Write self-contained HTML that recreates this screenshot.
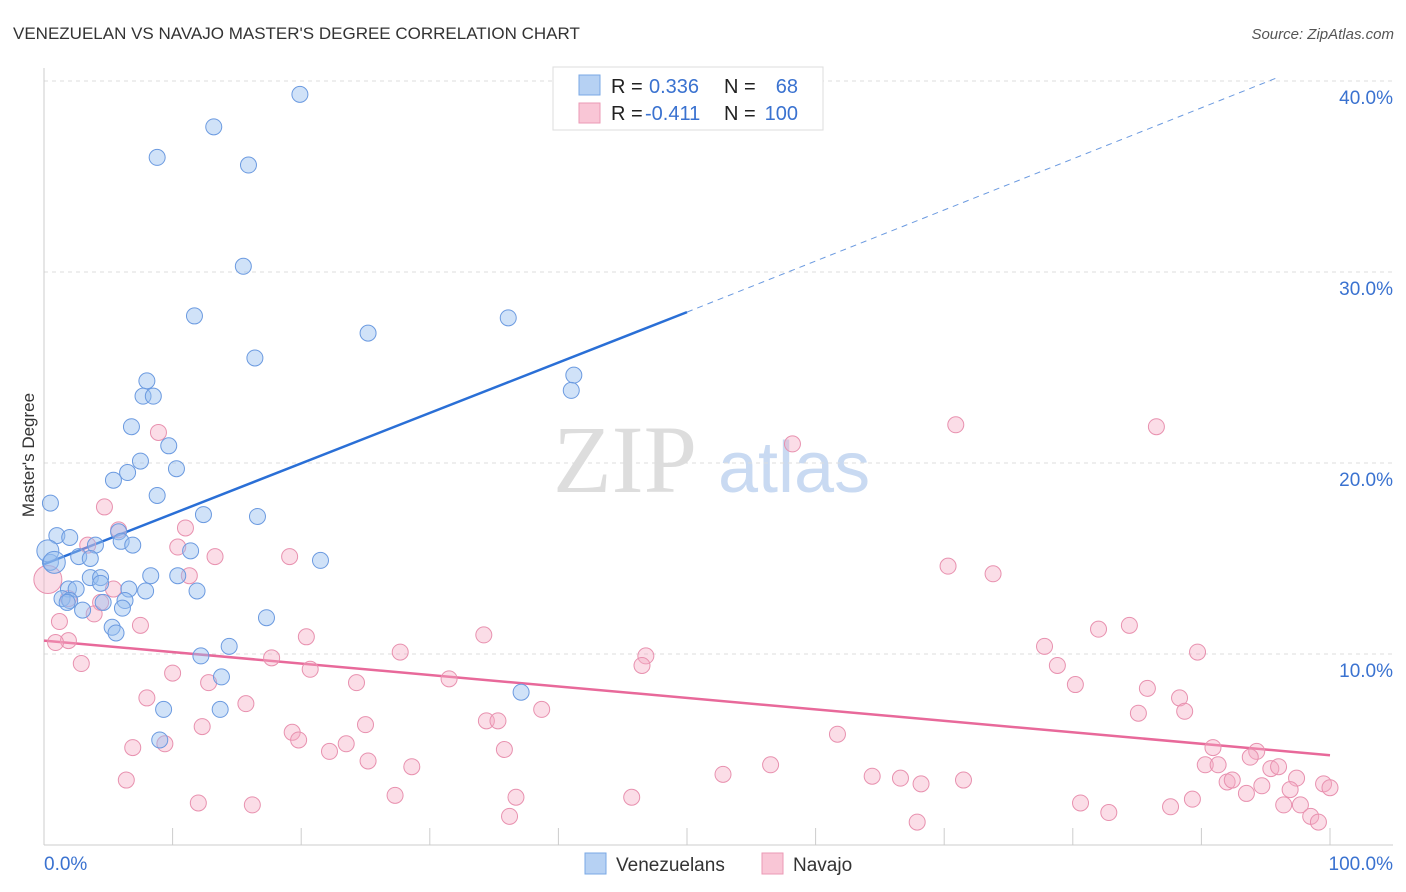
<!DOCTYPE html>
<html><head><meta charset="utf-8"><style>
body{margin:0;background:#fff;font-family:"Liberation Sans",sans-serif;}
svg{display:block}
</style></head><body>
<svg id="chart" width="1406" height="892" xmlns="http://www.w3.org/2000/svg">
<text x="13" y="39" font-size="17" fill="#333">VENEZUELAN VS NAVAJO MASTER'S DEGREE CORRELATION CHART</text>
<text x="1394" y="39" font-size="15" fill="#555" font-style="italic" text-anchor="end">Source: ZipAtlas.com</text>
<g>
<text x="553" y="492" font-size="96" font-family="Liberation Serif,serif" fill="#ddd">ZIP</text>
<text x="718" y="492" font-size="72" fill="#c9daf2">atlas</text>
</g>
<g id="grid"></g>
<g id="axes"></g>
<g id="trend"></g>
<g id="pts"></g>
<text x="34" y="455" font-size="17" fill="#333" text-anchor="middle" transform="rotate(-90 34 455)">Master's Degree</text>
<g>
<rect x="553" y="67" width="270" height="63" fill="#fff" stroke="#ddd"/>
<rect x="579" y="75" width="21" height="20" fill="#b6d1f3" stroke="#7aa8e4"/>
<rect x="579" y="103" width="21" height="20" fill="#f9c6d6" stroke="#eb9ab5"/>
<text x="611" y="93" font-size="20" fill="#222">R =</text><text x="649" y="93" font-size="20" fill="#3a72d0">0.336</text>
<text x="724" y="93" font-size="20" fill="#222">N =</text><text x="798" y="93" font-size="20" fill="#3a72d0" text-anchor="end">68</text>
<text x="611" y="120" font-size="20" fill="#222">R =</text><text x="645" y="120" font-size="20" fill="#3a72d0">-0.411</text>
<text x="724" y="120" font-size="20" fill="#222">N =</text><text x="798" y="120" font-size="20" fill="#3a72d0" text-anchor="end">100</text>
</g>
<g>
<rect x="585" y="853" width="21" height="21" fill="#b6d1f3" stroke="#7aa8e4"/>
<text x="616" y="871" font-size="19" fill="#333">Venezuelans</text>
<rect x="762" y="853" width="21" height="21" fill="#f9c6d6" stroke="#eb9ab5"/>
<text x="793" y="871" font-size="19" fill="#333">Navajo</text>
</g>
</svg>
<script>
const blueX=[19.9,13.2,8.8,15.9,15.5,11.7,36.1,25.2,16.4,8.0,7.7,8.5,41.2,41.0,6.8,9.7,7.5,10.3,6.5,5.4,8.8,0.5,12.4,16.6,1.0,2.0,5.8,6.0,6.9,4.0,11.4,21.5,2.7,3.6,0.5,8.3,10.4,3.6,4.4,4.4,6.6,7.9,11.9,1.9,2.5,1.4,2.0,4.6,6.3,1.8,3.0,6.1,17.3,5.3,5.6,14.4,12.2,13.8,37.1,9.3,13.7,9.0,0.3,0.8];
const blueY=[39.3,37.6,36.0,35.6,30.3,27.7,27.6,26.8,25.5,24.3,23.5,23.5,24.6,23.8,21.9,20.9,20.1,19.7,19.5,19.1,18.3,17.9,17.3,17.2,16.2,16.1,16.4,15.9,15.7,15.7,15.4,14.9,15.1,15.0,14.8,14.1,14.1,14.0,14.0,13.7,13.4,13.3,13.3,13.4,13.4,12.9,12.8,12.7,12.8,12.7,12.3,12.4,11.9,11.4,11.1,10.4,9.9,8.8,8.0,7.1,7.1,5.5,15.4,14.8];
const pinkX=[70.9,86.5,58.2,8.9,4.7,11.0,5.8,3.4,10.4,13.3,19.1,70.3,73.8,11.3,5.4,1.9,4.4,3.9,7.5,1.2,20.4,34.2,1.9,0.9,84.4,82.0,46.8,77.8,89.7,27.7,2.9,17.7,46.5,20.7,78.8,10.0,31.5,12.8,24.3,80.2,85.8,8.0,15.7,38.7,88.3,88.7,85.1,34.4,35.3,25.0,12.3,19.3,61.7,19.8,23.5,9.4,6.9,22.2,35.8,90.9,94.3,25.2,28.6,90.3,91.3,93.8,95.4,96.0,56.5,52.8,64.4,66.6,71.5,6.4,92.0,97.4,99.5,100,68.2,92.4,94.7,96.9,93.5,27.3,45.7,36.7,89.3,12.0,16.2,80.6,82.8,87.6,96.4,97.7,36.2,67.9,98.5,99.1,0.3];
const pinkY=[22.0,21.9,21.0,21.6,17.7,16.6,16.5,15.7,15.6,15.1,15.1,14.6,14.2,14.1,13.4,12.9,12.7,12.1,11.5,11.7,10.9,11.0,10.7,10.6,11.5,11.3,9.9,10.4,10.1,10.1,9.5,9.8,9.4,9.2,9.4,9.0,8.7,8.5,8.5,8.4,8.2,7.7,7.4,7.1,7.7,7.0,6.9,6.5,6.5,6.3,6.2,5.9,5.8,5.5,5.3,5.3,5.1,4.9,5.0,5.1,4.9,4.4,4.1,4.2,4.2,4.6,4.0,4.1,4.2,3.7,3.6,3.5,3.4,3.4,3.3,3.5,3.2,3.0,3.2,3.4,3.1,2.9,2.7,2.6,2.5,2.5,2.4,2.2,2.1,2.2,1.7,2.0,2.1,2.1,1.5,1.2,1.5,1.2,13.9];
const yTicks=[10,20,30,40];
const yTickLabels=["10.0%","20.0%","30.0%","40.0%"];
const xTicks=[0,10,20,30,40,50,60,70,80,90,100];
const blueTrend=[[0,14.7],[50,27.9],[96,40.2]];
const pinkTrend=[[0,10.7],[100,4.7]];
const NS="http://www.w3.org/2000/svg";
const sx=v=>44+v*12.86, sy=v=>845-v*19.1;
function mk(tag,attrs,parent){const e=document.createElementNS(NS,tag);for(const k in attrs)e.setAttribute(k,attrs[k]);document.getElementById(parent).appendChild(e);return e;}
yTicks.forEach((t,i)=>{
 const l=mk('line',{x1:44,x2:1393,y1:sy(t),y2:sy(t),stroke:'#ddd','stroke-dasharray':'4 4'},'grid');
 
 
 const tx=mk('text',{x:1393,y:sy(t)+23,'font-size':19,fill:'#3a72d0','text-anchor':'end'},'axes');
 tx.textContent=yTickLabels[i];
 
 
});
let a=mk('line',{x1:44,x2:44,y1:68,y2:845,stroke:'#ccc'},'axes');


a=mk('line',{x1:44,x2:1393,y1:845,y2:845,stroke:'#ccc'},'axes');


xTicks.forEach(t=>{const l=mk('line',{x1:sx(t),x2:sx(t),y1:828,y2:845,stroke:'#ccc'},'axes');
 
 });
let t0=mk('text',{x:44,y:870,'font-size':19,fill:'#3a72d0'},'axes');t0.textContent='0.0%';


t0=mk('text',{x:1393,y:870,'font-size':19,fill:'#3a72d0','text-anchor':'end'},'axes');t0.textContent='100.0%';


pinkX.forEach((x,i)=>{const c=mk('circle',{cx:sx(x),cy:sy(pinkY[i]),r:i===pinkX.length-1?14:8,fill:'rgba(245,170,196,0.4)',stroke:'#e891af','stroke-width':1},'pts');
 
 });
blueX.forEach((x,i)=>{const c=mk('circle',{cx:sx(x),cy:sy(blueY[i]),r:i>=blueX.length-2?11:8,fill:'rgba(150,190,240,0.45)',stroke:'#6b9ae0','stroke-width':1},'pts');
 
 });
let l=mk('line',{x1:sx(blueTrend[0][0]),y1:sy(blueTrend[0][1]),x2:sx(blueTrend[1][0]),y2:sy(blueTrend[1][1]),stroke:'#2a6fd6','stroke-width':2.5},'trend');


l=mk('line',{x1:sx(blueTrend[1][0]),y1:sy(blueTrend[1][1]),x2:sx(blueTrend[2][0]),y2:sy(blueTrend[2][1]),stroke:'#6b9ae0','stroke-width':1,'stroke-dasharray':'6 5'},'trend');


l=mk('line',{x1:sx(pinkTrend[0][0]),y1:sy(pinkTrend[0][1]),x2:sx(pinkTrend[1][0]),y2:sy(pinkTrend[1][1]),stroke:'#e8699a','stroke-width':2.5},'trend');


</script>
</body></html>
